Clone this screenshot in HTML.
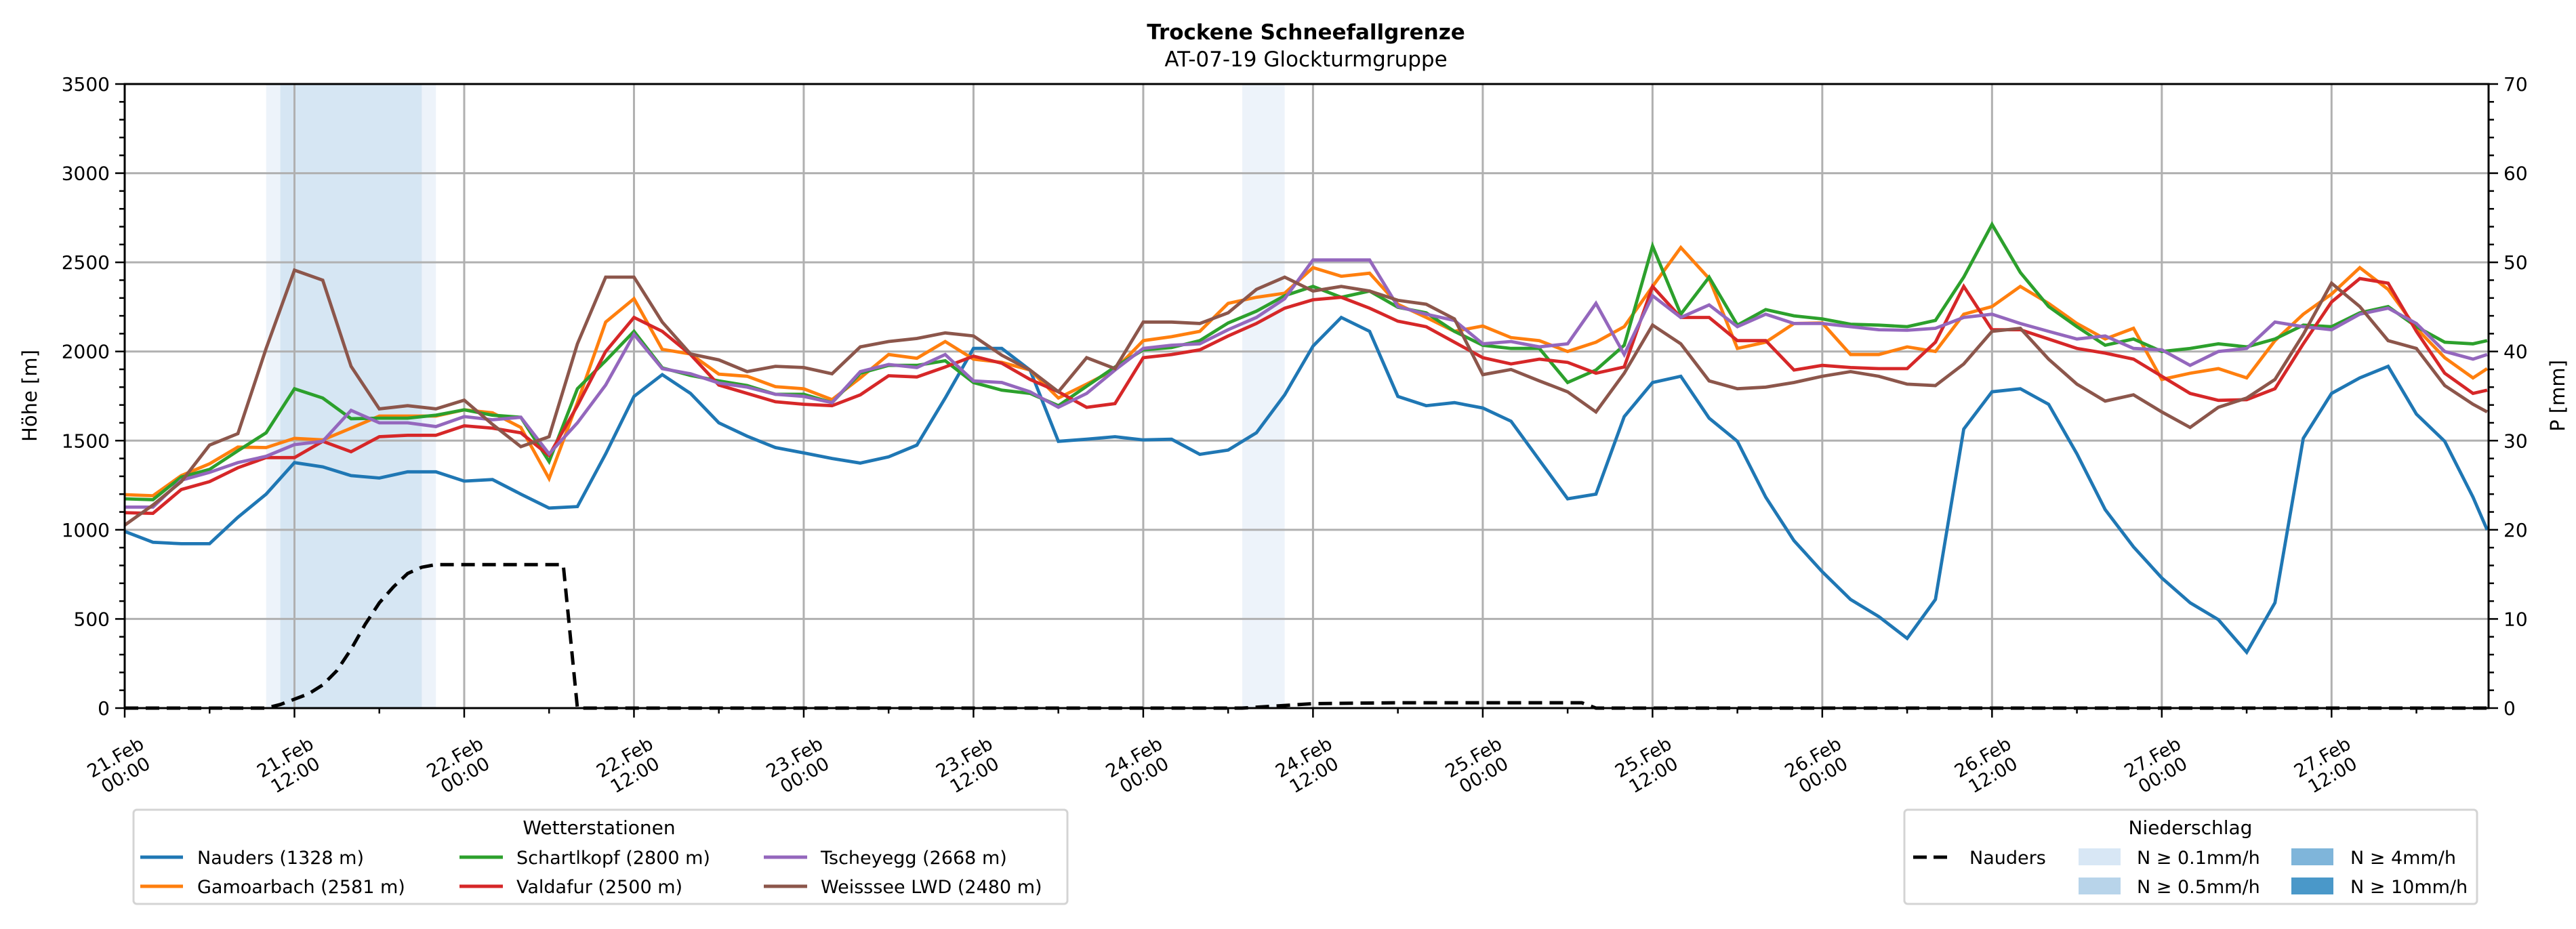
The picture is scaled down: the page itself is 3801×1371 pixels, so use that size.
<!DOCTYPE html>
<html><head><meta charset="utf-8">
<style>
html,body{margin:0;padding:0;background:#fff;}
svg{display:block;font-family:"DejaVu Sans","Liberation Sans",sans-serif;}
</style></head>
<body>
<svg id="chart" width="3801" height="1371" viewBox="0 0 3801 1371" xmlns="http://www.w3.org/2000/svg">
<rect width="3801" height="1371" fill="#fff"/>
<text x="1927" y="58" text-anchor="middle" font-size="31" font-weight="bold">Trockene Schneefallgrenze</text>
<text x="1927" y="98" text-anchor="middle" font-size="31">AT-07-19 Glockturmgruppe</text>
<g id="bands"></g>
<g id="grid"></g>
<g id="series"></g>
<g id="precip"></g>
<g id="axes"></g>
<text transform="translate(54,584) rotate(-90)" text-anchor="middle" font-size="29">Höhe [m]</text>
<text transform="translate(3784,584) rotate(-90)" text-anchor="middle" font-size="29">P [mm]</text>

<g>
<rect x="197" y="1195" width="1378" height="139" rx="5" fill="#fff" stroke="#d4d4d4" stroke-width="3"/>
<text x="884" y="1231" text-anchor="middle" font-size="28">Wetterstationen</text>
<g><line x1="207" y1="1265" x2="270" y2="1265" stroke="#1f77b4" stroke-width="5"/><text x="291" y="1275" font-size="27">Nauders (1328 m)</text></g>
<g><line x1="207" y1="1308" x2="270" y2="1308" stroke="#ff7f0e" stroke-width="5"/><text x="291" y="1318" font-size="27">Gamoarbach (2581 m)</text></g>
<g><line x1="678" y1="1265" x2="742" y2="1265" stroke="#2ca02c" stroke-width="5"/><text x="762" y="1275" font-size="27">Schartlkopf (2800 m)</text></g>
<g><line x1="678" y1="1308" x2="742" y2="1308" stroke="#d62728" stroke-width="5"/><text x="762" y="1318" font-size="27">Valdafur (2500 m)</text></g>
<g><line x1="1127" y1="1265" x2="1191" y2="1265" stroke="#9467bd" stroke-width="5"/><text x="1211" y="1275" font-size="27">Tscheyegg (2668 m)</text></g>
<g><line x1="1127" y1="1308" x2="1191" y2="1308" stroke="#8c564b" stroke-width="5"/><text x="1211" y="1318" font-size="27">Weisssee LWD (2480 m)</text></g>
</g>

<g>
<rect x="2810" y="1195" width="845" height="139" rx="5" fill="#fff" stroke="#d4d4d4" stroke-width="3"/>
<text x="3232" y="1231" text-anchor="middle" font-size="28">Niederschlag</text>
<g><line x1="2823" y1="1265" x2="2880" y2="1265" stroke="#000" stroke-width="5" stroke-dasharray="20,10"/><text x="2906" y="1275" font-size="27">Nauders</text></g>
<g><rect x="3067" y="1252" width="62" height="25" fill="#d8e7f5"/><text x="3153" y="1275" font-size="27">N ≥ 0.1mm/h</text></g>
<g><rect x="3067" y="1295" width="62" height="25" fill="#b8d4ea"/><text x="3153" y="1318" font-size="27">N ≥ 0.5mm/h</text></g>
<g><rect x="3381" y="1252" width="62" height="25" fill="#7fb5da"/><text x="3468" y="1275" font-size="27">N ≥ 4mm/h</text></g>
<g><rect x="3381" y="1295" width="62" height="25" fill="#4a98c9"/><text x="3468" y="1318" font-size="27">N ≥ 10mm/h</text></g>
</g>
</svg>
<script>
const hours = [0,2,4,6,8,10,12,14,16,18,20,22,24,26,28,30,32,34,36,38,40,42,44,46,48,50,52,54,56,58,60,62,64,66,68,70,72,74,76,78,80,82,84,86,88,90,92,94,96,98,100,102,104,106,108,110,112,114,116,118,120,122,124,126,128,130,132,134,136,138,140,142,144,146,148,150,152,154,156,158,160,162,164,166,167];
const nauders = [991,930,922,922,1070,1200,1377,1353,1304,1290,1325,1325,1273,1282,1200,1122,1130,1426,1748,1870,1765,1600,
1525,1461,1431,1400,1374,1409,1475,1739,2017,2017,1896,1496,1508,1522,1504,1508,1423,1447,1544,1757,2030,
2191,2113,1748,1696,1713,1683,1609,1391,1174,1200,1635,1826,1861,1626,1496,1183,939,765,609,513,391,
609,1565,1774,1791,1704,1426,1113,904,730,591,496,313,591,1513,1765,1852,1917,1649,1496,1183,1000];
const gamoarbach = [1197,1191,1304,1370,1464,1461,1513,1504,1570,1638,1638,1638,1673,1656,1574,1287,1713,2165,2296,2012,1986,1873,
1861,1803,1791,1730,1852,1983,1962,2056,1957,1939,1896,1739,1817,1899,2061,2083,2113,2270,2304,2327,2470,
2422,2439,2265,2191,2113,2143,2078,2061,2000,2052,2139,2365,2583,2409,2017,2052,2157,2160,1983,1983,2026,
2000,2209,2252,2365,2270,2157,2070,2130,1843,1878,1904,1852,2061,2209,2322,2470,2348,2130,1965,1852,1904];
const schartlkopf = [1174,1169,1296,1339,1443,1544,1791,1739,1623,1626,1626,1643,1673,1643,1631,1383,1791,1948,2113,1908,1866,1835,
1809,1760,1760,1713,1878,1922,1922,1948,1826,1783,1765,1696,1805,1913,2009,2022,2061,2160,2226,2313,2365,
2304,2339,2248,2217,2113,2035,2017,2017,1826,1896,2035,2591,2209,2417,2148,2235,2200,2183,2153,2148,2139,
2174,2417,2713,2443,2252,2139,2035,2070,2000,2017,2043,2026,2070,2148,2139,2217,2252,2139,2052,2043,2061];
const valdafur = [1096,1092,1226,1270,1348,1405,1405,1496,1438,1522,1530,1530,1583,1570,1544,1417,1696,2000,2191,2113,1983,1812,
1765,1718,1704,1696,1757,1864,1857,1913,1974,1934,1843,1774,1687,1708,1965,1983,2009,2087,2157,2243,2290,
2304,2243,2170,2139,2052,1965,1930,1957,1939,1878,1913,2365,2191,2191,2061,2061,1896,1922,1910,1904,1904,
2052,2365,2122,2122,2070,2017,1991,1957,1861,1765,1726,1730,1791,2043,2278,2409,2383,2113,1878,1765,1783];
const tscheyegg = [1127,1127,1278,1322,1377,1412,1478,1496,1670,1600,1600,1579,1635,1617,1631,1426,1600,1812,2096,1904,1875,1823,
1800,1760,1748,1713,1887,1927,1910,1983,1835,1826,1774,1687,1765,1896,2017,2035,2043,2122,2191,2296,2513,
2513,2513,2252,2209,2174,2043,2056,2026,2043,2270,1983,2313,2191,2261,2139,2209,2157,2157,2139,2122,2119,
2130,2191,2209,2157,2113,2070,2087,2017,2009,1922,2000,2017,2165,2139,2122,2209,2243,2157,2000,1957,1983];
const weisssee = [1026,1139,1270,1475,1539,2017,2456,2400,1917,1678,1696,1678,1727,1591,1466,1522,2043,2417,2417,2165,1986,1953,
1887,1917,1910,1875,2026,2056,2073,2104,2087,1979,1896,1774,1965,1904,2165,2165,2157,2217,2348,2417,2339,
2365,2339,2287,2265,2183,1870,1899,1835,1774,1661,1878,2148,2043,1835,1791,1800,1826,1861,1887,1861,1817,
1809,1930,2113,2130,1957,1817,1722,1757,1661,1574,1687,1739,1843,2096,2383,2252,2061,2017,1809,1704,1661];
const precipHours = [0,10,11,12,13,14,15,16,17,18,19,20,21,22,31,32,79,81,84,90,103,104,167];
const precipValues = [0,0,0.4,1.0,1.6,2.6,4.2,6.6,9.4,11.8,13.6,15.1,15.8,16.1,16.1,0,0,0.2,0.5,0.6,0.6,0,0];
const bandStart = [10,11,79];
const bandEnd = [22,21,82];
const bandLevel = [0.1,0.5,0.1];
const yTicks = [0,500,1000,1500,2000,2500,3000,3500];
const pTicks = [0,10,20,30,40,50,60,70];
const xTickHours = [0,12,24,36,48,60,72,84,96,108,120,132,144,156];
const xTickDates = ["21.Feb","21.Feb","22.Feb","22.Feb","23.Feb","23.Feb","24.Feb","24.Feb","25.Feb","25.Feb","26.Feb","26.Feb","27.Feb","27.Feb"];
const xTickTimes = ["00:00","12:00","00:00","12:00","00:00","12:00","00:00","12:00","00:00","12:00","00:00","12:00","00:00","12:00"];

const NS="http://www.w3.org/2000/svg";
const L=184,R=3672,T=124,B=1045,HMAX=167.1;
const xs=h=>L+h*(R-L)/HMAX;
const ys=v=>B-v*(B-T)/3500;
const ps=m=>B-m*(B-T)/70;
function mk(tag,attrs,parent){const e=document.createElementNS(NS,tag);for(const k in attrs)e.setAttribute(k,attrs[k]);parent.appendChild(e);return e;}

const gb=document.getElementById('bands');
for(let i=0;i<bandStart.length;i++){
  const r=mk('rect',{x:xs(bandStart[i]),y:T,width:xs(bandEnd[i])-xs(bandStart[i]),height:B-T,fill:bandLevel[i]>=0.5?'#d6e6f3':'#edf3fa'},gb);
  
  
}
const gg=document.getElementById('grid');
yTicks.forEach(v=>{const l=mk('line',{x1:L,x2:R,y1:ys(v),y2:ys(v),stroke:'#b0b0b0','stroke-width':3},gg);
  
  });
xTickHours.forEach(h=>{const l=mk('line',{x1:xs(h),x2:xs(h),y1:T,y2:B,stroke:'#b0b0b0','stroke-width':3},gg);
  
  });

const gs=document.getElementById('series');
const series=[[nauders,'#1f77b4','nauders'],[gamoarbach,'#ff7f0e','gamoarbach'],[schartlkopf,'#2ca02c','schartlkopf'],[valdafur,'#d62728','valdafur'],[tscheyegg,'#9467bd','tscheyegg'],[weisssee,'#8c564b','weisssee']];
series.forEach(s=>{
  const d=s[0].map((v,i)=>(i?'L':'M')+xs(hours[i]).toFixed(1)+','+ys(v).toFixed(1)).join(' ');
  const p=mk('path',{d:d,fill:'none',stroke:s[1],'stroke-width':4.8,'stroke-linejoin':'miter'},gs);
  
  
});
const gp=document.getElementById('precip');
const pd=precipValues.map((v,i)=>(i?'L':'M')+xs(precipHours[i]).toFixed(1)+','+ps(v).toFixed(1)).join(' ');
const pp=mk('path',{d:pd,fill:'none',stroke:'#000','stroke-width':5,'stroke-dasharray':'20,11'},gp);



const ga=document.getElementById('axes');
const frame=mk('rect',{x:L,y:T,width:R-L,height:B-T,fill:'none',stroke:'#000','stroke-width':3},ga);


for(let v=0;v<=3500;v+=100){const maj=v%500===0;mk('line',{x1:L,x2:L-(maj?14:8),y1:ys(v),y2:ys(v),stroke:'#000','stroke-width':2.5},ga);}
for(let m=0;m<=70;m+=2){const maj=m%10===0;mk('line',{x1:R,x2:R+(maj?14:8),y1:ps(m),y2:ps(m),stroke:'#000','stroke-width':2.5},ga);}
for(let h=0;h<=HMAX;h+=6){const maj=h%12===0;mk('line',{x1:xs(h),x2:xs(h),y1:B,y2:B+(maj?14:8),stroke:'#000','stroke-width':2.5},ga);}
yTicks.forEach(v=>{const t=mk('text',{x:L-22,y:ys(v)+10,'text-anchor':'end','font-size':28},ga);t.textContent=v;
  
  });
pTicks.forEach(m=>{const t=mk('text',{x:R+22,y:ps(m)+10,'text-anchor':'start','font-size':28},ga);t.textContent=m;
  
  });
xTickHours.forEach((h,i)=>{
  const g=mk('g',{transform:'translate('+(xs(h)-6)+',1131) rotate(-30)'},ga);
  
  
  const t1=mk('text',{x:0,y:-6,'text-anchor':'middle','font-size':27},g);t1.textContent=xTickDates[i];
  const t2=mk('text',{x:0,y:24,'text-anchor':'middle','font-size':27},g);t2.textContent=xTickTimes[i];
});
</script>
</body></html>
